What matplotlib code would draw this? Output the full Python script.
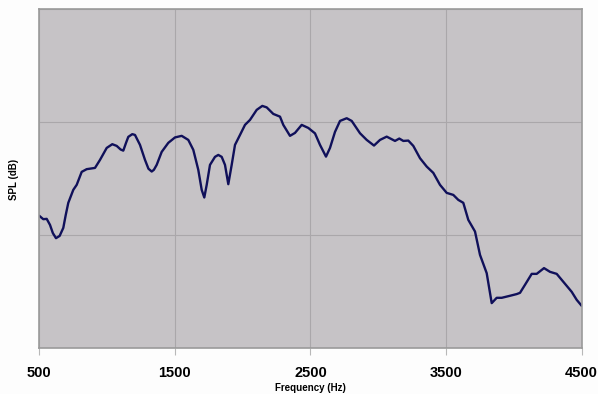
import matplotlib.pyplot as plt

# Frequency response readings (Hz, dB)
freq = [500, 529.5, 554.6, 578.9, 600, 623.2, 650, 677, 695, 713.9, 750.8, 775.8, 812.7,
        849.6, 910.8, 947.7, 997.1, 1038.4, 1070.8, 1100, 1119.5, 1140, 1156.4, 1185.9, 1205.8,
        1242.7, 1279.6, 1305, 1329, 1345, 1365.8, 1402.7, 1451.4, 1500.8, 1550.2, 1598.9, 1635.8,
        1672.6, 1697.7, 1716.9, 1734.6, 1758.9, 1795.8, 1820.1, 1845.2, 1869.5, 1893.9,
        1918.9, 1943.3, 1980.2, 2017.0, 2053.9, 2103.3, 2144.6, 2177.1, 2225.8, 2275.2,
        2299.5, 2348.9, 2385.8, 2435.2, 2483.9, 2533.3, 2570.2, 2614.4, 2643.9, 2680.8,
        2717.7, 2767.1, 2804.0, 2865.2, 2914.6, 2968.4, 3012.7, 3062.1, 3123.3, 3155.0,
        3184.5, 3221.4, 3258.3, 3307.7, 3357.1, 3405.8, 3455.2, 3504.6, 3553.3, 3590.1,
        3627.0, 3663.9, 3713.3, 3750.2, 3799.6, 3836.5, 3873.3, 3910.2, 3971.4, 4020.8,
        4045.2, 4082.0, 4131.5, 4168.3, 4222.2, 4266.4, 4315.8, 4377.0, 4426.4, 4463.3,
        4500]
spl = [81.73, 81.43, 81.46, 80.93, 80.2, 79.75, 79.95, 80.66, 81.8, 82.88, 84.03, 84.47, 85.62,
       85.86, 85.97, 86.68, 87.74, 88.07, 87.92, 87.6, 87.50, 88.2, 88.72, 88.96, 88.89,
       88.01, 86.68, 85.9, 85.65, 85.8, 86.24, 87.39, 88.19, 88.67, 88.81, 88.45, 87.57,
       85.80, 84.03, 83.35, 84.47, 86.24, 86.95, 87.12, 86.95, 86.24, 84.53,
       86.24, 88.01, 88.89, 89.78, 90.22, 91.11, 91.46, 91.33, 90.75, 90.51,
       89.78, 88.81, 89.07, 89.78, 89.51, 89.03, 88.01, 86.97, 87.74, 89.16,
       90.13, 90.37, 90.13, 89.04, 88.45, 87.95, 88.45, 88.74, 88.36, 88.57,
       88.36, 88.39, 87.92, 86.83, 86.09, 85.53, 84.47, 83.76, 83.58, 83.14,
       82.88, 81.37, 80.34, 78.27, 76.65, 74.00, 74.47, 74.47, 74.65, 74.80,
       74.91, 75.62, 76.59, 76.59, 77.10, 76.77, 76.59, 75.71, 75.00, 74.29,
       73.76]

x_ticks = [500, 1500, 2500, 3500, 4500]
y_grid = [70, 80, 90, 100]

fig = plt.figure(figsize=(5.98, 3.94), dpi=100, facecolor='#fdfdfd')
ax = fig.add_axes([0.0657, 0.116, 0.907, 0.860])
ax.set_facecolor('#c6c3c6')

ax.plot(freq, spl, color='#10105a', linewidth=1.7, solid_joinstyle='round',
        solid_capstyle='round')

ax.set_xlim(500, 4500)
ax.set_ylim(70, 100)
ax.set_xticks(x_ticks)
ax.set_xticklabels([str(t) for t in x_ticks], fontsize=10.5, fontweight='bold',
                   family='Liberation Sans')
ax.set_yticks(y_grid)
ax.set_yticklabels([])
ax.tick_params(axis='y', length=0)
ax.tick_params(axis='x', length=5, width=0.8, color='#b8b8b8', pad=8)
ax.grid(True, color='#aaa7aa', linewidth=0.8)
ax.set_axisbelow(True)
for side in ax.spines.values():
    side.set_color('#9a9a9a')
    side.set_linewidth(1.2)

fig.text(0.5193, 0.003, 'Frequency (Hz)', ha='center', va='bottom',
         fontsize=7, fontweight='bold', family='Liberation Sans')
fig.text(0.0234, 0.545, 'SPL (dB)', ha='center', va='center', rotation=90,
         fontsize=7, fontweight='bold', family='Liberation Sans')

fig.savefig('out.png', dpi=100, facecolor=fig.get_facecolor())
